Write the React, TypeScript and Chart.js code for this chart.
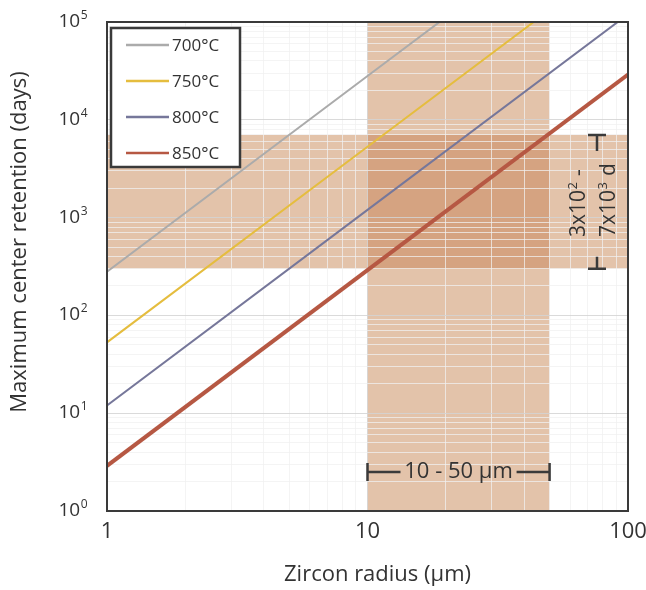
import React, { useEffect, useRef } from 'react';
import { Chart, registerables } from 'chart.js';

Chart.register(...registerables);

// Zircon radius (µm) and maximum center retention (days) per temperature
const radii = [1, 10, 100];
const retention700 = [280, 28000, 2800000];
const retention750 = [53, 5300, 530000];
const retention800 = [12, 1200, 120000];
const retention850 = [2.9, 290, 29000];

const seriesLabels = ['700°C', '750°C', '800°C', '850°C'];
const seriesColors = ['#ababab', '#e5bd3e', '#76779a', '#b65843'];
const seriesWidths = [2, 2, 2, 4];

// Shaded ranges: typical radii and resulting retention window
const radiusRange = [10, 50];
const retentionRange = [300, 7000];

// Axis ticks
const xDecades = [1, 10, 100];
const yExponents = [0, 1, 2, 3, 4, 5];
const minorSteps = [1, 2, 3, 4, 5, 6, 7, 8, 9];

const FONT = '"Open Sans", "DejaVu Sans", sans-serif';
const TEXT = '#333333';
const FRAME = '#3a3a3a';
const BAND = '#e3c3aa';
const BAND_OVERLAP = '#d5a381';

function logGrid(minExp: number, maxExp: number): number[] {
  const out: number[] = [];
  for (let e = minExp; e < maxExp; e++) {
    for (const s of minorSteps) out.push(s * Math.pow(10, e));
  }
  out.push(Math.pow(10, maxExp));
  return out;
}

function isDecade(v: number): boolean {
  const l = Math.log10(v);
  return Math.abs(l - Math.round(l)) < 1e-9;
}

// text with a raised exponent, drawn left-aligned on an alphabetic baseline
function drawPowerText(
  ctx: CanvasRenderingContext2D,
  parts: { base: string; exp: string; tail: string },
  x: number,
  y: number,
  size: number,
  expSize: number,
  raise: number
) {
  ctx.textAlign = 'left';
  ctx.textBaseline = 'alphabetic';
  ctx.font = `${size}px ${FONT}`;
  ctx.fillText(parts.base, x, y);
  let cx = x + ctx.measureText(parts.base).width;
  ctx.font = `${expSize}px ${FONT}`;
  ctx.fillText(parts.exp, cx + 0.5, y - raise);
  cx += ctx.measureText(parts.exp).width + 1;
  ctx.font = `${size}px ${FONT}`;
  if (parts.tail) ctx.fillText(parts.tail, cx, y);
}

const bandsPlugin = {
  id: 'bands',
  beforeDraw(chart: any) {
    const { ctx, chartArea, scales } = chart;
    const xs = scales.x;
    const ys = scales.y;
    const x0 = xs.getPixelForValue(radiusRange[0]);
    const x1 = xs.getPixelForValue(radiusRange[1]);
    const yTop = ys.getPixelForValue(retentionRange[1]);
    const yBot = ys.getPixelForValue(retentionRange[0]);
    ctx.save();
    ctx.fillStyle = BAND;
    ctx.fillRect(chartArea.left, yTop, chartArea.right - chartArea.left, yBot - yTop);
    ctx.fillRect(x0, chartArea.top, x1 - x0, chartArea.bottom - chartArea.top);
    ctx.fillStyle = BAND_OVERLAP;
    ctx.fillRect(x0, yTop, x1 - x0, yBot - yTop);
    ctx.restore();
  },
};

const decorPlugin = {
  id: 'decor',
  afterDraw(chart: any) {
    const { ctx, chartArea, scales } = chart;
    const xs = scales.x;
    const ys = scales.y;
    const { left, right, top, bottom } = chartArea;
    ctx.save();

    // frame
    ctx.strokeStyle = FRAME;
    ctx.lineWidth = 2;
    ctx.strokeRect(left, top, right - left, bottom - top);

    // y tick labels as powers of ten
    ctx.fillStyle = TEXT;
    for (const e of yExponents) {
      const y = ys.getPixelForValue(Math.pow(10, e));
      ctx.font = `19px ${FONT}`;
      const wb = ctx.measureText('10').width;
      ctx.font = `12px ${FONT}`;
      const we = ctx.measureText(String(e)).width;
      const xStart = left - 20 - wb - we;
      drawPowerText(ctx, { base: '10', exp: String(e), tail: '' }, xStart, y + 5, 19, 12, 8);
    }

    // axis titles
    ctx.font = `22px ${FONT}`;
    ctx.textAlign = 'center';
    ctx.textBaseline = 'middle';
    ctx.fillText('Zircon radius (μm)', (left + right) / 2 + 10, 575);
    ctx.save();
    ctx.translate(20, 242);
    ctx.rotate(-Math.PI / 2);
    ctx.fillText('Maximum center retention (days)', 0, 0);
    ctx.restore();

    // radius range bracket
    const bx0 = xs.getPixelForValue(radiusRange[0]);
    const bx1 = xs.getPixelForValue(radiusRange[1]);
    const by = 472;
    ctx.strokeStyle = FRAME;
    ctx.lineWidth = 2.5;
    ctx.beginPath();
    ctx.moveTo(bx0, by - 9); ctx.lineTo(bx0, by + 9);
    ctx.moveTo(bx1, by - 9); ctx.lineTo(bx1, by + 9);
    ctx.moveTo(bx0, by); ctx.lineTo(bx0 + 33, by);
    ctx.moveTo(bx1 - 33, by); ctx.lineTo(bx1, by);
    ctx.stroke();
    ctx.font = `22px ${FONT}`;
    ctx.textAlign = 'center';
    ctx.textBaseline = 'middle';
    ctx.fillText('10 - 50 μm', (bx0 + bx1) / 2, by);

    // retention range bracket
    const vx = 597;
    const vy0 = ys.getPixelForValue(retentionRange[1]);
    const vy1 = ys.getPixelForValue(retentionRange[0]);
    ctx.beginPath();
    ctx.moveTo(vx - 9, vy0); ctx.lineTo(vx + 9, vy0);
    ctx.moveTo(vx - 9, vy1); ctx.lineTo(vx + 9, vy1);
    ctx.moveTo(vx, vy0); ctx.lineTo(vx, vy0 + 16);
    ctx.moveTo(vx, vy1 - 12); ctx.lineTo(vx, vy1);
    ctx.stroke();
    ctx.save();
    ctx.translate(585, 237);
    ctx.rotate(-Math.PI / 2);
    drawPowerText(ctx, { base: '3x10', exp: '2', tail: ' -' }, 0, 0, 21, 13, 8);
    ctx.restore();
    ctx.save();
    ctx.translate(615, 237);
    ctx.rotate(-Math.PI / 2);
    drawPowerText(ctx, { base: '7x10', exp: '3', tail: ' d' }, 0, 0, 21, 13, 8);
    ctx.restore();

    // legend box
    const lx = 111, ly = 28, lw = 129, lh = 139;
    ctx.fillStyle = '#ffffff';
    ctx.fillRect(lx, ly, lw, lh);
    ctx.strokeStyle = FRAME;
    ctx.lineWidth = 2.5;
    ctx.strokeRect(lx, ly, lw, lh);
    seriesLabels.forEach((label, i) => {
      const cy = 45 + i * 36;
      ctx.strokeStyle = seriesColors[i];
      ctx.lineWidth = 2.5;
      ctx.beginPath();
      ctx.moveTo(126, cy);
      ctx.lineTo(169, cy);
      ctx.stroke();
      ctx.fillStyle = TEXT;
      ctx.font = `17px ${FONT}`;
      ctx.textAlign = 'left';
      ctx.textBaseline = 'middle';
      ctx.fillText(label, 172, cy + 1);
    });

    ctx.restore();
  },
};

export default function App() {
  const canvasRef = useRef<HTMLCanvasElement | null>(null);

  useEffect(() => {
    if (!canvasRef.current) return;
    const seriesData = [retention700, retention750, retention800, retention850];
    const xGrid = logGrid(0, 2);
    const yGrid = logGrid(0, 5);

    const gridColor = (ctx: any) =>
      ctx.tick && isDecade(ctx.tick.value) ? 'rgba(212,212,212,0.85)' : 'rgba(240,240,240,0.75)';

    const chart = new Chart(canvasRef.current, {
      type: 'line',
      data: {
        datasets: seriesLabels.map((label, i) => ({
          label,
          data: radii.map((r, j) => ({ x: r, y: seriesData[i][j] })),
          borderColor: seriesColors[i],
          backgroundColor: seriesColors[i],
          borderWidth: seriesWidths[i],
          pointRadius: 0,
          fill: false,
          tension: 0,
        })),
      },
      options: {
        responsive: false,
        animation: false,
        layout: { padding: { top: 22, right: 18, left: 0, bottom: 0 } },
        plugins: { legend: { display: false }, tooltip: { enabled: false } },
        scales: {
          x: {
            type: 'logarithmic',
            min: 1,
            max: 100,
            afterBuildTicks: (s: any) => {
              s.ticks = xGrid.map((v) => ({ value: v, major: isDecade(v) }));
            },
            afterFit: (s: any) => {
              s.height = 79;
              s.paddingLeft = 0;
              s.paddingRight = 0;
            },
            grid: { color: gridColor, drawTicks: false, lineWidth: 1 },
            border: { display: false },
            ticks: {
              autoSkip: false,
              maxRotation: 0,
              minRotation: 0,
              padding: 8,
              color: TEXT,
              font: { family: FONT, size: 22 },
              callback: (v: any) => (xDecades.includes(Number(v)) ? String(v) : ''),
            },
          },
          y: {
            type: 'logarithmic',
            min: 1,
            max: 100000,
            afterBuildTicks: (s: any) => {
              s.ticks = yGrid.map((v) => ({ value: v, major: isDecade(v) }));
            },
            afterFit: (s: any) => {
              s.width = 107;
              s.paddingTop = 0;
              s.paddingBottom = 0;
            },
            grid: { color: gridColor, drawTicks: false, lineWidth: 1 },
            border: { display: false },
            ticks: { display: false },
          },
        },
      },
      plugins: [bandsPlugin, decorPlugin],
    } as any);

    return () => chart.destroy();
  }, []);

  return (
    <div style={{ position: 'fixed', left: 0, top: 0, width: 646, height: 590, background: '#ffffff' }}>
      <canvas ref={canvasRef} width={646} height={590} style={{ width: 646, height: 590, display: 'block' }} />
    </div>
  );
}
